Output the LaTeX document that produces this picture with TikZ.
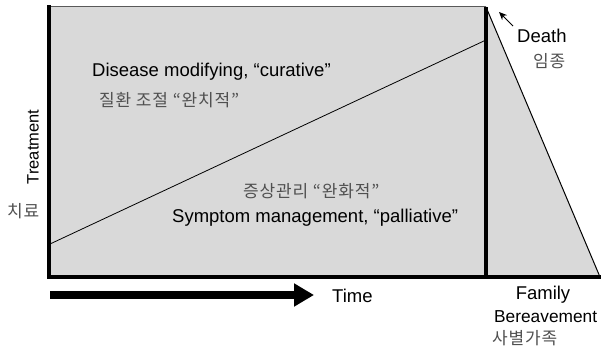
\documentclass[tikz,border=0pt]{standalone}
\usepackage{fontspec}
\setmainfont{Liberation Sans}
\newfontfamily\kr[LetterSpace=5]{Noto Sans CJK KR}
\usetikzlibrary{arrows.meta}
\definecolor{fillgray}{HTML}{D9D9D9}
\definecolor{krgray}{HTML}{505050}
\tikzset{
  en/.style={font=\fontsize{18.5}{20}\selectfont, inner sep=0pt, text=black},
  ko/.style={font=\kr\fontsize{17}{19}\selectfont, inner sep=0pt, text=krgray},
}
\begin{document}
\begin{tikzpicture}[x=1pt,y=-1pt]
\useasboundingbox (0,0) rectangle (601,347);
\coordinate (tl) at (49,7);
\coordinate (tr) at (486,7);
\coordinate (bl) at (49,277);
\coordinate (br) at (486,277);
\coordinate (te) at (600,277);
\coordinate (ls) at (50,244);
\coordinate (le) at (486,40);
\fill[fillgray] (tl) -- (tr) -- (te) -- (bl) -- cycle;
\draw[gray!70!black, line width=1pt] (tl) -- (tr);
\draw[black, line width=1pt] (tr) -- (te);
\draw[black, line width=0.8pt] (ls) -- (le);
\draw[black, line width=3.5pt, line cap=rect] (tl) -- (bl) -- (te);
\draw[black, line width=3.5pt] (tr) -- (br);
\coordinate (ta) at (50,295);
\coordinate (tb) at (314,295);
\draw[black, line width=8pt, -{Triangle[length=20pt,width=22pt]}] (ta) -- (tb);
\coordinate (da) at (513,26);
\coordinate (db) at (499,12);
\draw[black, line width=1pt, -{Stealth[length=8pt,width=7pt]}] (da) -- (db);
\node[en, anchor=west] (dis) at (92,72) {Disease modifying, “curative”};
\node[ko, anchor=west] (disk) at (99,100) {질환 조절 “완치적”};
\node[ko, anchor=west] (symk) at (243,191) {증상관리 “완화적”};
\node[en, anchor=west] (sym) at (172,218) {Symptom management, “palliative”};
\node[en, rotate=90, font=\fontsize{16.5}{18}\selectfont] (treat) at (33,147) {Treatment};
\node[ko, anchor=west] (treatk) at (7,211) {치료};
\node[en, anchor=west] (time) at (332,296) {Time};
\node[en, anchor=west] (death) at (517,36) {Death};
\node[ko, anchor=west] (deathk) at (533,61) {임종};
\node[en] (fam) at (543,295) {Family};
\node[en, anchor=west, font=\fontsize{17.3}{19}\selectfont] (ber) at (494,317) {Bereavement};
\node[ko, anchor=west] (berk) at (492,338) {사별가족};
\end{tikzpicture}
\end{document}
